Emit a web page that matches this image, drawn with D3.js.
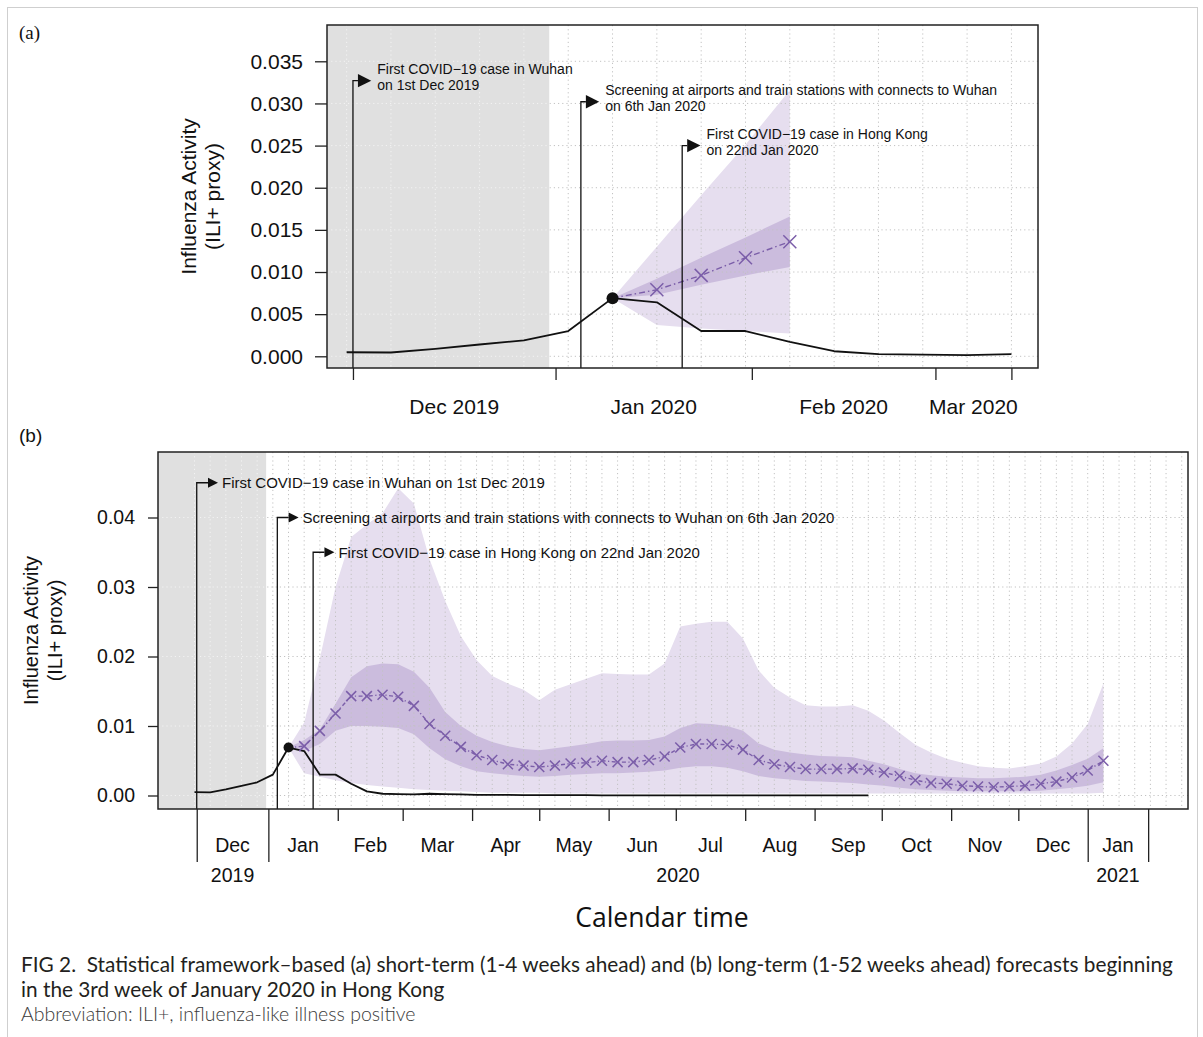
<!DOCTYPE html>
<html>
<meta charset="utf-8">
<head>
  <title>Influenza activity forecasts, Hong Kong</title>
</head>

<style>
body { margin: 0; background: #fff; }
text {
  font-family: "Liberation Sans", Arial, Helvetica, sans-serif;
  fill: #111;
}
.grid line {
  stroke: #c2c2c2;
  stroke-width: 1;
  stroke-dasharray: 1.2, 3;
}
.grid.shaded line { stroke: #f3f3f3; }
.axis line { stroke: #222; stroke-width: 1.3; }
.axis path { display: none; }
.caption { font-family: Lato, "Open Sans", sans-serif; fill: #231f20; }
</style>

<body>
  <svg width="1203" height="1037"></svg>

  <script src="https://cdnjs.cloudflare.com/ajax/libs/d3/7.8.5/d3.min.js"></script>
  <script>
// weekly ILI+ proxy, weeks ending on Saturday, first week ends 30 Nov 2019
var obsStart = '2019-11-30';
var observed = [0.00048, 0.00045, 0.00087, 0.0014, 0.0019, 0.0030, 0.0069, 0.0064,
  0.0030, 0.0030, 0.0017, 0.0006, 0.00025, 0.0002, 0.00015, 0.00025,
  0.0002, 0.00015, 0.0001, 0.0001, 0.00008, 0.00005, 0.00005, 0.00005,
  0.00005, 0.00005, 0.00003, 0.00003, 0.00003, 0.00003, 0.00003, 0.00003,
  0.00003, 0.00002, 0.00002, 0.00002, 0.00002, 0.00002, 0.00002, 0.00002,
  0.00002, 0.00002, 0.00002, 0.00002];
var originWeek = 6;   // 11 Jan 2020, last week used before forecasting
var shownWeeksA = 16; // panel (a) only shows up to mid March

// (a) 1-4 weeks ahead
var shortMean    = [0.0079, 0.0096, 0.0117, 0.0136];
var shortInnerLo = [0.0073, 0.0085, 0.0096, 0.0106];
var shortInnerHi = [0.0092, 0.0117, 0.0141, 0.0166];
var shortOuterLo = [0.0037, 0.0033, 0.0030, 0.0027];
var shortOuterHi = [0.0130, 0.0191, 0.0251, 0.0316];

// (b) 1-52 weeks ahead
var longMean = [0.0071, 0.0093, 0.0118, 0.0143, 0.0143, 0.0145, 0.0142, 0.0129, 0.0103, 0.0086,
  0.0070, 0.0058, 0.0051, 0.0045, 0.0043, 0.0041, 0.0043, 0.0046, 0.0047, 0.0050,
  0.0048, 0.0048, 0.0051, 0.0056, 0.0069, 0.0074, 0.0074, 0.0073, 0.0066, 0.0051,
  0.0045, 0.0041, 0.0038, 0.0038, 0.0038, 0.0039, 0.0037, 0.0033, 0.0028, 0.0022,
  0.0018, 0.0017, 0.0014, 0.0013, 0.0012, 0.0013, 0.0014, 0.0017, 0.0020, 0.0026,
  0.0036, 0.0050];
var longInnerLo = [0.0064, 0.0074, 0.0093, 0.0100, 0.0100, 0.0099, 0.0097, 0.0088, 0.0068, 0.0052,
  0.0042, 0.0035, 0.0032, 0.0030, 0.0028, 0.0027, 0.0028, 0.0030, 0.0031, 0.0032,
  0.0032, 0.0033, 0.0034, 0.0036, 0.0040, 0.0042, 0.0042, 0.0040, 0.0035, 0.0028,
  0.0025, 0.0023, 0.0021, 0.0020, 0.0019, 0.0018, 0.0016, 0.0014, 0.0011, 0.0009,
  0.0008, 0.0007, 0.0006, 0.0006, 0.0006, 0.0006, 0.0006, 0.0007, 0.0009, 0.0011,
  0.0014, 0.0019];
var longInnerHi = [0.0080, 0.0095, 0.0132, 0.0170, 0.0186, 0.0190, 0.0189, 0.0178, 0.0155, 0.0120,
  0.0100, 0.0086, 0.0077, 0.0071, 0.0067, 0.0065, 0.0068, 0.0071, 0.0074, 0.0078,
  0.0079, 0.0079, 0.0080, 0.0085, 0.0097, 0.0104, 0.0103, 0.0100, 0.0093, 0.0075,
  0.0066, 0.0062, 0.0059, 0.0057, 0.0056, 0.0055, 0.0050, 0.0045, 0.0038, 0.0032,
  0.0029, 0.0027, 0.0026, 0.0025, 0.0025, 0.0026, 0.0027, 0.0030, 0.0036, 0.0044,
  0.0053, 0.0068];
var longOuterLo = [0.0032, 0.0027, 0.0022, 0.0018, 0.0015, 0.0013, 0.0011, 0.0009, 0.0008, 0.0007,
  0.0006, 0.0005, 0.0004, 0.0004, 0.0004, 0.0004, 0.0003, 0.0003, 0.0003, 0.0003,
  0.0003, 0.0003, 0.0003, 0.0003, 0.0003, 0.0003, 0.0003, 0.0003, 0.0003, 0.0003,
  0.0003, 0.0003, 0.0003, 0.0003, 0.0003, 0.0003, 0.0003, 0.0003, 0.0003, 0.0003,
  0.0003, 0.0003, 0.0003, 0.0003, 0.0003, 0.0003, 0.0003, 0.0003, 0.0003, 0.0003,
  0.0003, 0.0004];
var longOuterHi = [0.0105, 0.0197, 0.0300, 0.0372, 0.0390, 0.0406, 0.0442, 0.0420, 0.0340, 0.0280,
  0.0229, 0.0195, 0.0172, 0.0161, 0.0152, 0.0137, 0.0152, 0.0160, 0.0168, 0.0176,
  0.0175, 0.0174, 0.0174, 0.0190, 0.0243, 0.0247, 0.0250, 0.0250, 0.0226, 0.0180,
  0.0155, 0.0141, 0.0130, 0.0128, 0.0128, 0.0130, 0.0122, 0.0108, 0.0090, 0.0073,
  0.0062, 0.0053, 0.0047, 0.0042, 0.0040, 0.0039, 0.0042, 0.0046, 0.0056, 0.0075,
  0.0103, 0.0161];

// events
var eventDates = ['2019-12-01', '2020-01-06', '2020-01-22'];
var eventTextA = [['First COVID\u221219 case in Wuhan', 'on 1st Dec 2019'],
  ['Screening at airports and train stations with connects to Wuhan', 'on 6th Jan 2020'],
  ['First COVID\u221219 case in Hong Kong', 'on 22nd Jan 2020']];
var eventTextB = ['First COVID\u221219 case in Wuhan on 1st Dec 2019',
  'Screening at airports and train stations with connects to Wuhan on 6th Jan 2020',
  'First COVID\u221219 case in Hong Kong on 22nd Jan 2020'];
var eventLevelA = [0.0327, 0.0302, 0.025];
var eventLevelB = [0.045, 0.040, 0.035];
var shadeEnd = '2020-01-01';

// axes
var ticksA = ['2019-12-01', '2020-01-02', '2020-02-02', '2020-03-02', '2020-03-14'];
var tickLabelsA = ['Dec 2019', 'Jan 2020', 'Feb 2020', 'Mar 2020'];
var ticksB = ['2019-12-01', '2020-01-02', '2020-02-02', '2020-03-02', '2020-04-02', '2020-05-02',
  '2020-06-02', '2020-07-02', '2020-08-02', '2020-09-02', '2020-10-02', '2020-11-02',
  '2020-12-02', '2021-01-02', '2021-01-29'];
var tickLabelsB = ['Dec', 'Jan', 'Feb', 'Mar', 'Apr', 'May', 'Jun', 'Jul', 'Aug', 'Sep', 'Oct', 'Nov', 'Dec', 'Jan'];
var yearTicksB = [0, 1, 13, 14];
var yearLabelsB = ['2019', '2020', '2021'];

var parse = d3.utcParse('%Y-%m-%d');
var origin = parse('2019-12-01');
function dayOff(n) { return new Date(+origin + n * 864e5); }
function week(i) { return d3.utcDay.offset(parse(obsStart), 7 * i); }

var svg = d3.select('svg');
var defs = svg.append('defs');
var purple = '#7b5ea9';

function panel(c) {
  var g = svg.append('g');
  var x = d3.scaleUtc().domain(c.xDom).range([c.left, c.right]);
  var y = d3.scaleLinear().domain(c.yDom).range(c.yRange);
  var xs = x(parse(shadeEnd));

  // grey period before 2020
  g.append('rect')
    .attr('x', c.left).attr('y', c.top)
    .attr('width', xs - c.left)
    .attr('height', c.bottom - c.top)
    .attr('fill', '#e0e0e0');

  // forecast bands, starting at the last observed week
  var o = observed[originWeek];
  var fc = [{ i: originWeek, m: o, ilo: o, ihi: o, olo: o, ohi: o }];
  c.mean.forEach(function(v, k) {
    fc.push({ i: originWeek + k + 1, m: v, ilo: c.innerLo[k], ihi: c.innerHi[k], olo: c.outerLo[k], ohi: c.outerHi[k] });
  });
  g.append('path').datum(fc)
    .attr('fill', '#e6deef')
    .attr('d', d3.area().x(function(d) { return x(week(d.i)); })
      .y0(function(d) { return y(d.olo); }).y1(function(d) { return y(d.ohi); }));
  g.append('path').datum(fc)
    .attr('fill', '#cbbcdd')
    .attr('d', d3.area().x(function(d) { return x(week(d.i)); })
      .y0(function(d) { return y(d.ilo); }).y1(function(d) { return y(d.ihi); }));

  // grid: lighter dots over the grey period
  [['plain', xs, c.right], ['shaded', c.left, xs]].forEach(function(part) {
    var id = 'clip-' + c.id + '-' + part[0];
    defs.append('clipPath').attr('id', id).append('rect')
      .attr('x', part[1]).attr('y', c.top - 1)
      .attr('width', part[2] - part[1]).attr('height', c.bottom - c.top + 2);
    var grid = g.append('g').attr('class', 'grid ' + part[0]).attr('clip-path', 'url(#' + id + ')');
    grid.selectAll('line.h').data(c.yTicks).enter().append('line')
      .attr('x1', c.left).attr('x2', c.right)
      .attr('y1', function(d) { return y(d); }).attr('y2', function(d) { return y(d); });
    grid.selectAll('line.v').data(d3.range(c.gridWeeks)).enter().append('line')
      .attr('x1', function(d) { return x(week(d)); }).attr('x2', function(d) { return x(week(d)); })
      .attr('y1', c.top).attr('y2', c.bottom);
  });

  // observed series
  var obs = observed.slice(0, c.nObs);
  g.append('path').datum(obs)
    .attr('fill', 'none').attr('stroke', '#111').attr('stroke-width', 1.8)
    .attr('stroke-linejoin', 'round')
    .attr('d', d3.line().x(function(d, i) { return x(week(i)); }).y(function(d) { return y(d); }));

  // forecast mean
  g.append('path').datum(fc)
    .attr('fill', 'none').attr('stroke', purple).attr('stroke-width', 1.4)
    .attr('stroke-dasharray', c.dash)
    .attr('d', d3.line().x(function(d) { return x(week(d.i)); }).y(function(d) { return y(d.m); }));
  var s = c.cross;
  g.selectAll('path.cross').data(fc.slice(1)).enter().append('path')
    .attr('transform', function(d) { return 'translate(' + x(week(d.i)) + ',' + y(d.m) + ')'; })
    .attr('d', 'M' + -s + ',' + -s + 'L' + s + ',' + s + 'M' + -s + ',' + s + 'L' + s + ',' + -s)
    .attr('stroke', purple).attr('stroke-width', 1.5).attr('fill', 'none');

  g.append('circle')
    .attr('cx', x(week(originWeek))).attr('cy', y(o))
    .attr('r', c.dotR).attr('fill', '#111');

  // events
  eventDates.forEach(function(dt, i) {
    var xe = x(parse(dt)), ya = y(c.levels[i]);
    var tx = xe + c.stem + c.head + c.gap;
    g.append('path')
      .attr('d', 'M' + xe + ',' + c.bottom + 'V' + ya + 'H' + (xe + c.stem))
      .attr('fill', 'none').attr('stroke', '#111').attr('stroke-width', 1.3);
    g.append('path')
      .attr('d', 'M' + (xe + c.stem) + ',' + (ya - c.head / 2) + 'L' + (xe + c.stem + c.head) + ',' + ya +
        'L' + (xe + c.stem) + ',' + (ya + c.head / 2) + 'Z')
      .attr('fill', '#111');
    var lines = c.texts[i];
    if (typeof lines === 'string') {
      g.append('text').attr('x', tx).attr('y', ya).attr('dy', '0.35em')
        .style('font-size', c.annoSize + 'px').text(lines);
    } else {
      lines.forEach(function(s, j) {
        g.append('text').attr('x', tx).attr('y', ya + (j ? 9 : -6.7))
          .style('font-size', c.annoSize + 'px').text(s);
      });
    }
  });

  // box
  g.append('rect')
    .attr('x', c.left).attr('y', c.top)
    .attr('width', c.right - c.left).attr('height', c.bottom - c.top)
    .attr('fill', 'none').attr('stroke', '#222').attr('stroke-width', 1.5);

  // y axis
  var yax = g.append('g').attr('class', 'axis')
    .attr('transform', 'translate(' + c.left + ',0)')
    .call(d3.axisLeft(y).tickValues(c.yTicks).tickFormat(d3.format(c.yFmt))
      .tickSize(c.yTickLen).tickPadding(c.yPad));
  yax.selectAll('text').style('font-size', c.fontSize + 'px')
    .attr('font-family', null).attr('fill', '#111');

  // x axis: ticks at month boundaries, labels centred between them
  var tickDates = c.ticks.map(parse);
  var xax = g.append('g').attr('class', 'axis')
    .attr('transform', 'translate(0,' + c.bottom + ')')
    .call(d3.axisBottom(x).tickValues(tickDates).tickFormat('').tickSize(c.xTickLen));
  xax.selectAll('.tick line').attr('y2', function(d, i) {
    return c.longTicks && c.longTicks.indexOf(i) >= 0 ? c.longTickLen : c.xTickLen;
  });
  g.selectAll('text.mlab').data(c.tickLabels).enter().append('text')
    .attr('x', function(d, i) { return (x(tickDates[i]) + x(tickDates[i + 1])) / 2; })
    .attr('y', c.labelY)
    .attr('text-anchor', 'middle')
    .style('font-size', c.fontSize + 'px')
    .text(function(d) { return d; });
  if (c.longTicks) {
    g.selectAll('text.ylab').data(c.yearLabels).enter().append('text')
      .attr('x', function(d, i) {
        return (x(tickDates[c.longTicks[i]]) + x(tickDates[c.longTicks[i + 1]])) / 2;
      })
      .attr('y', c.yearY)
      .attr('text-anchor', 'middle')
      .style('font-size', c.fontSize + 'px')
      .text(function(d) { return d; });
  }

  // y title
  var cy = (c.top + c.bottom) / 2;
  c.title.forEach(function(s, i) {
    g.append('text')
      .attr('transform', 'translate(' + c.titleX[i] + ',' + cy + ') rotate(-90)')
      .attr('dy', '0.35em')
      .attr('text-anchor', 'middle')
      .style('font-size', c.titleSize + 'px')
      .text(s);
  });
}

// outer frame
svg.append('rect')
  .attr('x', 7.5).attr('y', 7.5).attr('width', 1190).attr('height', 1045)
  .attr('fill', 'none').attr('stroke', '#cfcfcf').attr('stroke-width', 1);

panel({
  id: 'a',
  left: 327, right: 1038, top: 25, bottom: 368,
  xDom: [dayOff(-4.1), dayOff(108.2)],
  yDom: [0, 0.035], yRange: [356.3, 61.3],
  yTicks: d3.range(0, 0.0351, 0.005), yFmt: '.3f',
  yTickLen: 12, yPad: 12,
  nObs: shownWeeksA, gridWeeks: shownWeeksA,
  mean: shortMean, innerLo: shortInnerLo, innerHi: shortInnerHi, outerLo: shortOuterLo, outerHi: shortOuterHi,
  dash: '6,3,1.5,3', cross: 6.5, dotR: 6,
  levels: eventLevelA, texts: eventTextA, stem: 5, head: 13.3, gap: 6, annoSize: 14,
  ticks: ticksA, tickLabels: tickLabelsA, xTickLen: 12, labelY: 414,
  fontSize: 21,
  title: ['Influenza Activity', '(ILI+ proxy)'], titleX: [189, 213], titleSize: 21
});

panel({
  id: 'b',
  left: 158, right: 1188, top: 452, bottom: 809,
  xDom: [dayOff(-17.3), dayOff(442.8)],
  yDom: [0, 0.04], yRange: [795.5, 517.5],
  yTicks: d3.range(0, 0.0401, 0.01), yFmt: '.2f',
  yTickLen: 10, yPad: 13,
  nObs: observed.length, gridWeeks: 64,
  mean: longMean, innerLo: longInnerLo, innerHi: longInnerHi, outerLo: longOuterLo, outerHi: longOuterHi,
  dash: '4,2.5,1.2,2.5', cross: 5, dotR: 5,
  levels: eventLevelB, texts: eventTextB, stem: 11.3, head: 10, gap: 4, annoSize: 15,
  ticks: ticksB, tickLabels: tickLabelsB, xTickLen: 12, labelY: 852,
  longTicks: yearTicksB, longTickLen: 53, yearLabels: yearLabelsB, yearY: 882,
  fontSize: 19.5,
  title: ['Influenza Activity', '(ILI+ proxy)'], titleX: [31, 55], titleSize: 20
});

// panel tags
svg.append('text').attr('x', 19).attr('y', 39)
  .style('font-family', '"Liberation Serif", serif')
  .style('font-size', '19px').text('(a)');
svg.append('text').attr('x', 19).attr('y', 442)
  .style('font-size', '19px').text('(b)');

svg.append('text').attr('x', 662).attr('y', 927)
  .attr('text-anchor', 'middle')
  .style('font-family', '"Open Sans", sans-serif').style('font-size', '26.5px')
  .text('Calendar time');

// caption
var caption = ['FIG 2.\u00a0 Statistical framework\u2013based (a) short-term (1-4 weeks ahead) and (b) long-term (1-52 weeks ahead) forecasts beginning',
  'in the 3rd week of January 2020 in Hong Kong'];
svg.selectAll('text.cap').data(caption).enter().append('text')
  .attr('class', 'caption')
  .attr('x', 21).attr('y', function(d, i) { return 972 + i * 25; })
  .style('font-size', '20.8px')
  .text(function(d) { return d; });
svg.append('text').attr('class', 'caption')
  .attr('x', 21).attr('y', 1021)
  .style('font-size', '19.5px').style('font-weight', 300).style('fill', '#3a3a3a')
  .text('Abbreviation: ILI+, influenza-like illness positive');
  </script>
</body>
</html>
